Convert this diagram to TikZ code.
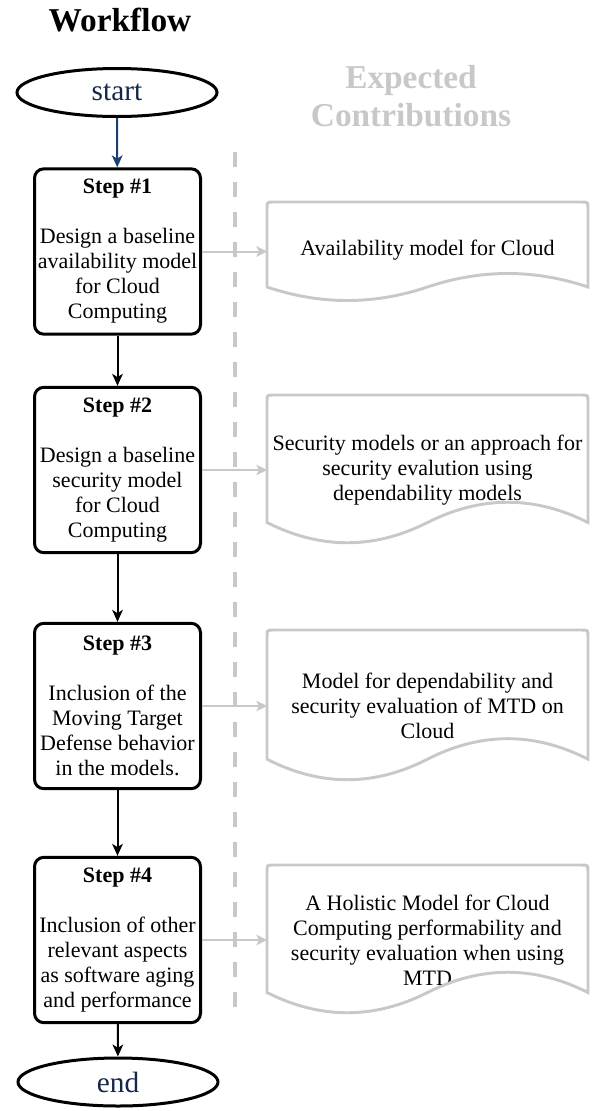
\documentclass[tikz,border=0pt]{standalone}
\usepackage{fontspec}
\setmainfont{Liberation Serif}
\usetikzlibrary{arrows.meta,calc,shapes.geometric}
\definecolor{lgray}{HTML}{C8C8C8}
\definecolor{navy}{HTML}{1B3F70}
\definecolor{navytext}{HTML}{14284B}
\newcommand\docoutline[1]{%
  \draw[docline] let \p1=(#1.north west), \p2=(#1.south east),
      \n1={\x2-\x1}, \n2={0.3*(\y1-\y2)} in
    (\x1,{\y2+0.5*\n2}) -- (\x1,{\y1-5pt}) .. controls (\x1,\y1) .. ({\x1+5pt},\y1)
    -- ({\x2-5pt},\y1) .. controls (\x2,\y1) .. (\x2,{\y1-5pt})
    -- (\x2,{\y2+0.5*\n2})
    .. controls ({\x2-\n1/6},{\y2+1.1*\n2}) and ({\x1+\n1/2+\n1/6},{\y2+1.1*\n2}) .. ({\x1+\n1/2},{\y2+0.5*\n2})
    .. controls ({\x1+\n1/2-\n1/6},{\y2-0.1*\n2}) and ({\x1+\n1/6},{\y2-0.1*\n2}) .. (\x1,{\y2+0.5*\n2})
    -- cycle;}
\begin{document}
\begin{tikzpicture}[x=0.75pt,y=-0.75pt,
  stepbox/.style={draw=black, line width=2.25pt, rounded corners=7pt,
    minimum width=124.5pt, minimum height=124pt, inner sep=0pt, align=center,
    font=\fontsize{16.5}{18.75}\selectfont},
  term/.style={ellipse, draw=black, line width=2.25pt, minimum width=150pt,
    minimum height=36pt, inner sep=0pt, text=navytext,
    font=\fontsize{22}{26}\selectfont},
  docbox/.style={rectangle, minimum width=240.75pt, inner sep=0pt, outer sep=0pt,
    align=center, font=\fontsize{16.5}{18.75}\selectfont},
  docline/.style={draw=lgray, line width=2.2pt},
  flow/.style={line width=1.5pt, -{Stealth[length=9pt,width=8pt,inset=2.5pt]}},
  contrib/.style={draw=lgray, line width=1.5pt, -{Stealth[length=8pt,width=8pt,inset=2pt]}},
  title/.style={font=\bfseries\fontsize{25}{29}\selectfont, align=center},
  sep/.style={draw=lgray, line width=3.4pt, dash pattern=on 11.25pt off 11.25pt}
]
\useasboundingbox (0,0) rectangle (592,1111);

% titles
\node[title] (wf) at (120,20.5) {Workflow};
\node[title, text=lgray] (ec) at (411,96) {Expected\\Contributions};

% separator
\coordinate (septop) at (235,152);
\coordinate (sepbot) at (235,1013);
\draw[sep] (septop) -- (sepbot);

% flow nodes
\node[term] (start) at (117,92.5) {start};
\node[stepbox] (s1) at (117.5,251.5) {\textbf{Step \#1}\\[18.75pt]Design a baseline\\availability model\\for Cloud\\Computing};
\node[stepbox] (s2) at (117.5,470) {\textbf{Step \#2}\\[18.75pt]Design a baseline\\security model\\for Cloud\\Computing};
\node[stepbox] (s3) at (117.5,706) {\textbf{Step \#3}\\[18.75pt]Inclusion of the\\Moving Target\\Defense behavior\\in the models.};
\node[stepbox] (s4) at (117.5,940) {\textbf{Step \#4}\\[18.75pt]Inclusion of other\\relevant aspects\\as software aging\\and performance};
\node[term] (end) at (118,1082) {end};

% contribution documents
\node[docbox, minimum height=75pt] (d1) at (427.5,252) {\raisebox{6.75pt}{Availability model for Cloud}};
\node[docbox, minimum height=112.5pt] (d2) at (427.5,470) {Security models or an approach for\\security evalution using\\dependability models};
\node[docbox, minimum height=114pt] (d3) at (427.5,706) {Model for dependability and\\security evaluation of MTD on\\Cloud};
\node[docbox, minimum height=112.5pt] (d4) at (427.5,940) {A Holistic Model for Cloud\\Computing performability and\\security evaluation when using\\MTD};
\docoutline{d1}
\docoutline{d2}
\docoutline{d3}
\docoutline{d4}

% connectors
\draw[flow, navy] (start) -- (s1);
\draw[flow] (s1) -- (s2);
\draw[flow] (s2) -- (s3);
\draw[flow] (s3) -- (s4);
\draw[flow] (s4) -- (end);
\draw[contrib] (s1.east) -- (s1.east -| d1.west);
\draw[contrib] (s2.east) -- (s2.east -| d2.west);
\draw[contrib] (s3.east) -- (s3.east -| d3.west);
\draw[contrib] (s4.east) -- (s4.east -| d4.west);
\end{tikzpicture}
\end{document}
